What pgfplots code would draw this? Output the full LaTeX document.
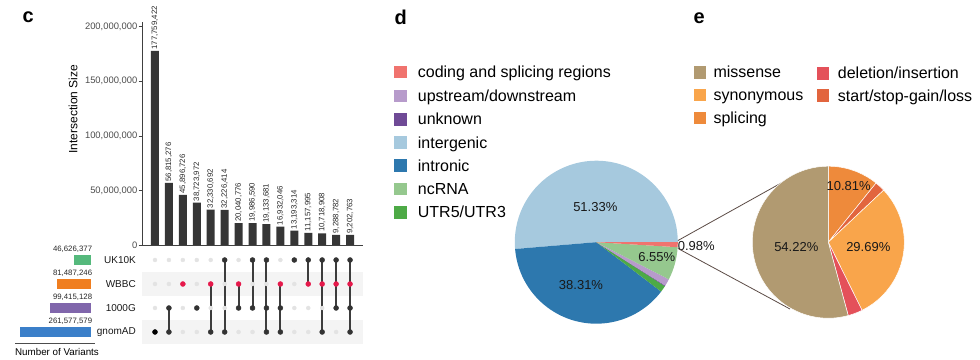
\documentclass[border=0pt]{standalone}
\usepackage{pgfplots}
\pgfplotsset{compat=1.18}
\usepackage{fontspec}
\setmainfont{Liberation Sans}
\newcommand\fs[1]{\fontsize{#1}{#1}\selectfont}
\definecolor{barc}{HTML}{363636}
\definecolor{stripe}{HTML}{F4F4F4}
\definecolor{dotoff}{HTML}{E3E3E3}
\definecolor{doton}{HTML}{333333}
\definecolor{linec}{HTML}{3D3D3D}
\definecolor{wred}{HTML}{E6194B}
\definecolor{cuk}{HTML}{55B97C}
\definecolor{cwb}{HTML}{F07E1F}
\definecolor{ckg}{HTML}{8066AB}
\definecolor{cgn}{HTML}{3B7FC9}
\definecolor{dcod}{HTML}{F0736E}
\definecolor{dups}{HTML}{B79BCB}
\definecolor{dunk}{HTML}{6F4A96}
\definecolor{dint}{HTML}{A6C9DE}
\definecolor{dintr}{HTML}{2D78AE}
\definecolor{dnc}{HTML}{95C88E}
\definecolor{dutr}{HTML}{4DAA46}
\definecolor{emis}{HTML}{B19A71}
\definecolor{esyn}{HTML}{F9A54B}
\definecolor{espl}{HTML}{EE8A3B}
\definecolor{edel}{HTML}{E4515A}
\definecolor{esta}{HTML}{E2653E}
\definecolor{conn}{HTML}{5B4B45}
% pie slices: colour, cumulative percent before slice, percent of slice
\newcommand\sliceD[3]{\fill[#1] (axis cs:0,0) -- ++({3.6*#2}:81.5bp) arc[start angle={3.6*#2}, delta angle={3.6*#3}, radius=81.5bp] -- cycle;}
\newcommand\sliceE[3]{\filldraw[fill=#1, draw=white, line width=0.5bp] (axis cs:0,0) -- ++({90-3.6*#2}:76bp) arc[start angle={90-3.6*#2}, delta angle={-3.6*#3}, radius=76bp] -- cycle;}
\begin{document}
\begin{tikzpicture}
\useasboundingbox (0,0) rectangle (980bp,360bp);

% ---------- panel c: intersection bars ----------
\begin{axis}[
  at={(142bp,115bp)}, anchor=south west, scale only axis,
  width=221bp, height=223.3bp,
  xmin=-0.933, xmax=14.93, ymin=0, ymax=2.0458e8,
  axis lines*=left,
  axis line style={draw=black!75, line width=0.6bp},
  xtick=\empty,
  ytick={0,50000000,100000000,150000000,200000000},
  yticklabels={0,{50,000,000},{100,000,000},{150,000,000},{200,000,000}},
  scaled y ticks=false,
  /pgf/number format/assume math mode=true,
  tick align=outside, major tick length=3.5bp,
  ytick style={draw=black!75, line width=0.6bp},
  yticklabel style={font=\fs{9.4bp}, text=black!70, inner sep=1bp},
  ylabel={Intersection Size},
  ylabel style={at={(axis description cs:-0.312,0.609)}, anchor=center, font=\fs{12bp}},
  clip=false,
]
\addplot[ybar, bar width=8bp, bar shift=0pt, fill=barc, draw=none,
  nodes near coords, point meta=explicit symbolic,
  nodes near coords style={rotate=90, anchor=west, font=\fs{7.8bp}, text=black!85, inner sep=1.2bp}]
 coordinates {
 (0,177759422) [177,759,422]
 (1,56815276) [56,815,276]
 (2,45896726) [45,896,726]
 (3,38723972) [38,723,972]
 (4,32330692) [32,330,692]
 (5,32226414) [32,226,414]
 (6,20040776) [20,040,776]
 (7,19986590) [19,986,590]
 (8,19133681) [19,133,681]
 (9,16932046) [16,932,046]
 (10,13193314) [13,193,314]
 (11,11157995) [11,157,995]
 (12,10718908) [10,718,908]
 (13,9288782) [9,288,782]
 (14,9202763) [9,202,763]
 };
\end{axis}

% ---------- panel c: matrix ----------
\begin{axis}[
  at={(142bp,16bp)}, anchor=south west, scale only axis,
  width=221bp, height=96bp,
  xmin=-0.933, xmax=14.93, ymin=-0.5, ymax=3.5,
  axis line style={draw=none}, xtick=\empty,
  ytick={0,1,2,3}, yticklabels={gnomAD,1000G,WBBC,UK10K},
  major tick length=0pt, ytick style={draw=none},
  yticklabel style={font=\fs{10bp}, text=black!90, inner sep=0pt, xshift=-6bp},
  clip=false,
]
\addplot[line width=24bp, color=stripe] coordinates {(-0.933,0) (14.93,0)};
\addplot[line width=24bp, color=stripe] coordinates {(-0.933,2) (14.93,2)};
\addplot[only marks, mark=*, mark size=2bp, color=dotoff] coordinates {
 (2,0) (3,0) (6,0) (7,0) (10,0) (11,0) (13,0)
 (0,1) (2,1) (4,1) (5,1) (10,1) (11,1) (12,1)
 (0,2) (1,2) (3,2) (5,2) (7,2) (8,2) (10,2)
 (0,3) (1,3) (2,3) (3,3) (4,3) (6,3) (9,3)
 };
\addplot[line width=2bp, color=linec, unbounded coords=jump] coordinates {
 (1,0) (1,1) (1,nan)
 (4,0) (4,2) (4,nan)
 (5,0) (5,3) (5,nan)
 (6,1) (6,2) (6,nan)
 (7,1) (7,3) (7,nan)
 (8,0) (8,3) (8,nan)
 (9,0) (9,2) (9,nan)
 (11,2) (11,3) (11,nan)
 (12,0) (12,3) (12,nan)
 (13,1) (13,3) (13,nan)
 (14,0) (14,3)
 };
\addplot[only marks, mark=*, mark size=2.5bp, color=black] coordinates {(0,0)};
\addplot[only marks, mark=*, mark size=2.5bp, color=doton] coordinates {
 (1,0) (4,0) (5,0) (8,0) (9,0) (12,0) (14,0)
 (1,1) (3,1) (6,1) (7,1) (8,1) (9,1) (13,1) (14,1)
 (5,3) (7,3) (8,3) (10,3) (11,3) (12,3) (13,3) (14,3)
 };
\addplot[only marks, mark=*, mark size=2.5bp, color=wred] coordinates {
 (2,2) (4,2) (6,2) (9,2) (11,2) (12,2) (13,2) (14,2)
 };
\end{axis}

% ---------- panel c: set sizes ----------
\begin{axis}[
  at={(15bp,16bp)}, anchor=south west, scale only axis,
  width=76bp, height=96bp,
  xmode=log, x dir=reverse, xmin=2.69e7, xmax=3.12e8,
  ymin=-0.5, ymax=3.5, hide axis, log origin x=infty,
]
\addplot[xbar, bar width=9.3bp, bar shift=0pt, fill=cgn, draw=none] coordinates {(261577579,0)};
\addplot[xbar, bar width=9.3bp, bar shift=0pt, fill=ckg, draw=none] coordinates {(99415128,1)};
\addplot[xbar, bar width=9.3bp, bar shift=0pt, fill=cwb, draw=none] coordinates {(81487246,2)};
\addplot[xbar, bar width=9.3bp, bar shift=0pt, fill=cuk, draw=none] coordinates {(46626377,3)};
\end{axis}
\begin{scope}[every node/.style={font=\fs{7.8bp}, text=black!85, anchor=east, inner sep=0pt}]
\node at (92.3bp,110.5bp) {46,626,377};
\node at (92.3bp,86.5bp) {81,487,246};
\node at (92.3bp,62.5bp) {99,415,128};
\node at (92.3bp,38.5bp) {261,577,579};
\end{scope}
\draw[black!70, line width=0.6bp] (15bp,16.7bp) -- (95bp,16.7bp);
\node[font=\fs{9.8bp}, inner sep=0pt] at (57bp,8.5bp) {Number of Variants};
\node[font=\bfseries\fs{20bp}, anchor=base west, inner sep=0pt] at (22.5bp,337.3bp) {c};

% ---------- panel d ----------
\node[font=\bfseries\fs{20bp}, anchor=base west, inner sep=0pt] at (394.5bp,335bp) {d};
\begin{scope}[every node/.style={font=\fs{16bp}, anchor=base west, inner sep=0pt}]
\fill[dcod] (394bp,281.7bp) rectangle ++(12.7bp,12.7bp); \node at (417.7bp,282.3bp) {coding and splicing regions};
\fill[dups] (394bp,257.7bp) rectangle ++(12.7bp,12.7bp); \node at (417.7bp,258.3bp) {upstream/downstream};
\fill[dunk] (394bp,234.4bp) rectangle ++(12.7bp,12.7bp); \node at (417.7bp,235bp) {unknown};
\fill[dint] (394bp,211bp) rectangle ++(12.7bp,12.7bp); \node at (417.7bp,211.6bp) {intergenic};
\fill[dintr] (394bp,188bp) rectangle ++(12.7bp,12.7bp); \node at (417.7bp,188.6bp) {intronic};
\fill[dnc] (394bp,164.7bp) rectangle ++(12.7bp,12.7bp); \node at (417.7bp,165.3bp) {ncRNA};
\fill[dutr] (394bp,141.4bp) rectangle ++(12.7bp,12.7bp); \node at (417.7bp,142bp) {UTR5/UTR3};
\end{scope}
\begin{axis}[
  at={(596.3bp,117.8bp)}, anchor=center, scale only axis,
  width=200bp, height=200bp, xmin=-100, xmax=100, ymin=-100, ymax=100,
  hide axis, clip=false]
\sliceD{dint}{0}{51.33}
\sliceD{dintr}{51.33}{38.31}
\sliceD{dutr}{89.64}{1.30}
\sliceD{dunk}{90.94}{0.13}
\sliceD{dups}{91.07}{1.40}
\sliceD{dnc}{92.47}{6.55}
\sliceD{dcod}{99.02}{0.98}
\end{axis}
\begin{scope}[every node/.style={font=\fs{13bp}, text=black!90, inner sep=0pt}]
\node at (595.3bp,153bp) {51.33\%};
\node at (581bp,75bp) {38.31\%};
\node at (656.7bp,103.3bp) {6.55\%};
\node at (696.3bp,114.3bp) {0.98\%};
\end{scope}
\draw[conn, line width=0.8bp] (678bp,119.5bp) -- (783bp,178bp);
\draw[conn, line width=0.8bp] (678bp,111.5bp) -- (790bp,51bp);

% ---------- panel e ----------
\node[font=\bfseries\fs{20bp}, anchor=base west, inner sep=0pt] at (693.5bp,336bp) {e};
\begin{scope}[every node/.style={font=\fs{16bp}, anchor=base west, inner sep=0pt}]
\fill[emis] (693.5bp,281.3bp) rectangle ++(12.7bp,12.7bp); \node at (713.3bp,282bp) {missense};
\fill[esyn] (693.5bp,258.5bp) rectangle ++(12.7bp,12.7bp); \node at (713.3bp,259.2bp) {synonymous};
\fill[espl] (693.5bp,235.7bp) rectangle ++(12.7bp,12.7bp); \node at (713.3bp,236.4bp) {splicing};
\fill[edel] (816.7bp,280.3bp) rectangle ++(12.7bp,12.7bp); \node at (837.7bp,281bp) {deletion/insertion};
\fill[esta] (816.7bp,257.8bp) rectangle ++(12.7bp,12.7bp); \node at (837.7bp,258.5bp) {start/stop-gain/loss};
\end{scope}
\begin{axis}[
  at={(828.3bp,117.8bp)}, anchor=center, scale only axis,
  width=200bp, height=200bp, xmin=-100, xmax=100, ymin=-100, ymax=100,
  hide axis, clip=false]
\sliceE{espl}{0}{10.81}
\sliceE{esta}{10.81}{2.18}
\sliceE{esyn}{12.99}{29.69}
\sliceE{edel}{42.68}{3.10}
\sliceE{emis}{45.78}{54.22}
\end{axis}
\begin{scope}[every node/.style={font=\fs{13bp}, text=black!90, inner sep=0pt}]
\node at (848.7bp,174bp) {10.81\%};
\node at (796.3bp,112.7bp) {54.22\%};
\node at (868.3bp,112.7bp) {29.69\%};
\end{scope}
\end{tikzpicture}
\end{document}
